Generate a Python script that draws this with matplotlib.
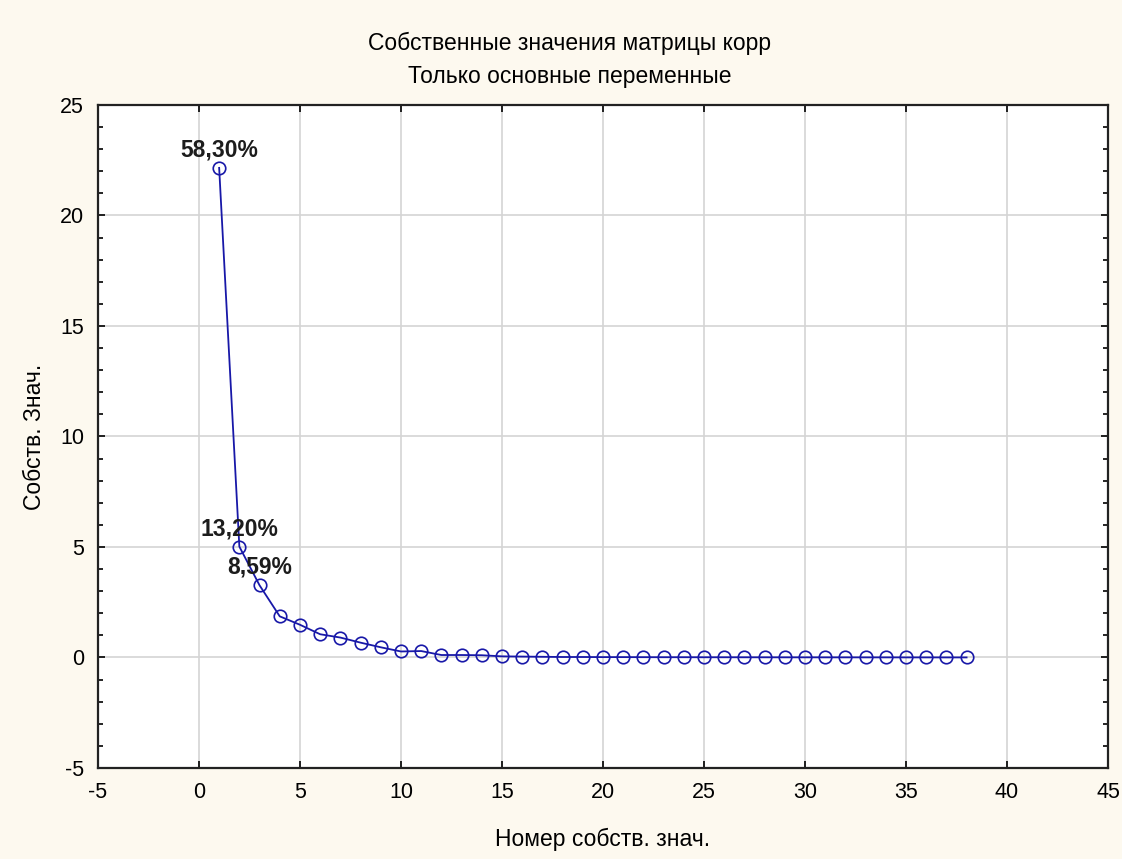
import matplotlib
matplotlib.use("Agg")
import matplotlib.pyplot as plt
from matplotlib.ticker import MultipleLocator

# Eigenvalues of the correlation matrix (38 variables)
component = list(range(1, 39))
eigenvalues = [22.154, 5.016, 3.264, 1.86, 1.48, 1.05, 0.90, 0.67, 0.46, 0.27,
               0.29, 0.11, 0.11, 0.10, 0.05, 0.04, 0.03, 0.02, 0.02, 0.015,
               0.015, 0.012, 0.01, 0.01, 0.008, 0.008, 0.007, 0.006, 0.005, 0.005,
               0.004, 0.004, 0.003, 0.003, 0.002, 0.002, 0.001, 0.001]
n_vars = 38
labelled = [0, 1, 2]  # components whose share of variance is annotated

title_lines = ["Собственные значения матрицы корр", "Только основные переменные"]
x_label = "Номер собств. знач."
y_label = "Собств. Знач."

plt.rcParams["font.family"] = ["Liberation Sans", "DejaVu Sans"]
plt.rcParams["axes.unicode_minus"] = False

fig = plt.figure(figsize=(11.22, 8.59), dpi=100, facecolor="#fdf9ef")
ax = fig.add_axes([0.0873, 0.106, 0.9002, 0.7718])
ax.set_facecolor("white")

line_color = "#1818a8"
ax.plot(component, eigenvalues, color=line_color, lw=1.3, marker="o",
        markersize=9, markerfacecolor="none", markeredgecolor=line_color,
        markeredgewidth=1.2, zorder=3)

for i in labelled:
    pct = eigenvalues[i] / n_vars * 100
    txt = f"{pct:.2f}%".replace(".", ",")
    ax.annotate(txt, (component[i], eigenvalues[i]), xytext=(0, 13),
                textcoords="offset points", ha="center", va="center",
                fontsize=16.5, color="#1c1c1c", fontweight="semibold", zorder=4)

ax.set_xlim(-5, 45)
ax.set_ylim(-5, 25)
ax.xaxis.set_major_locator(MultipleLocator(5))
ax.yaxis.set_major_locator(MultipleLocator(5))
ax.yaxis.set_minor_locator(MultipleLocator(1))

ax.grid(True, which="major", color="#d4d4d4", lw=1.2, zorder=0)
ax.set_axisbelow(True)

ax.tick_params(which="both", direction="in", top=True, right=True,
               labelsize=15.5, colors="black", width=1.2, pad=10)
ax.tick_params(which="major", length=5)
ax.tick_params(which="minor", length=3.5)

for s in ax.spines.values():
    s.set_linewidth(1.6)
    s.set_color("#222222")

ax.set_xlabel(x_label, fontsize=16.5, labelpad=18)
ax.set_ylabel(y_label, fontsize=16.5, labelpad=10)

fig.text(0.508, 1 - 43 / 859, title_lines[0], ha="center", va="center", fontsize=16.5)
fig.text(0.508, 1 - 76 / 859, title_lines[1], ha="center", va="center", fontsize=16.5)

fig.savefig("out.png", dpi=100, facecolor=fig.get_facecolor())
